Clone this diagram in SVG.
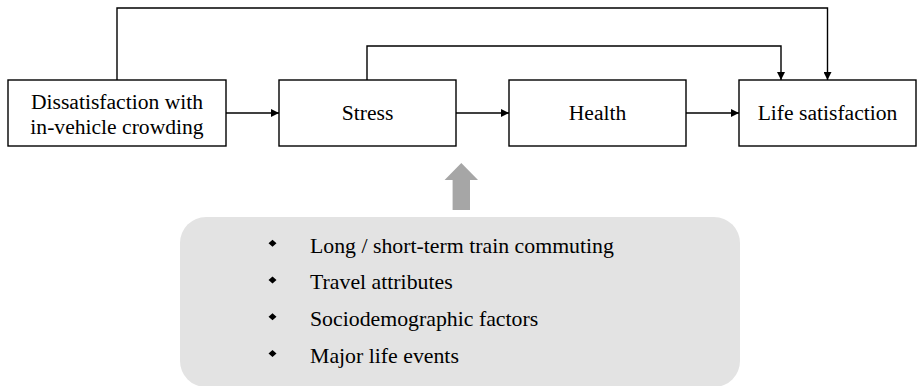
<svg xmlns="http://www.w3.org/2000/svg" width="917" height="386" viewBox="0 0 917 386">
<style>
.box{fill:#fff;stroke:#000;stroke-width:1.4}
.lbl{font-family:"Liberation Serif","Times New Roman",serif;font-size:21.6px;fill:#000;text-anchor:middle}
.li{font-family:"Liberation Serif","Times New Roman",serif;font-size:21.8px;fill:#000}
.con{fill:none;stroke:#000;stroke-width:1.4}
</style>
<defs>
<marker id="ah" viewBox="0 0 10 10" refX="10" refY="5" markerWidth="8" markerHeight="8" markerUnits="userSpaceOnUse" orient="auto">
<path d="M0,0 L10,5 L0,10 z" fill="#000"/>
</marker>
</defs>
<g id="connectors">
<path class="con" d="M117,80 V8 H827.5 V80" marker-end="url(#ah)"/>
<path class="con" d="M367,80 V46 H781 V80" marker-end="url(#ah)"/>
<path class="con" d="M226,113 H279" marker-end="url(#ah)"/>
<path class="con" d="M456,113 H509" marker-end="url(#ah)"/>
<path class="con" d="M686,113 H739" marker-end="url(#ah)"/>
<path d="M461.3,163 L478,180 L470,180 L470,210 L452.6,210 L452.6,180 L444.6,180 Z" fill="#a6a6a6"/>
</g>
<g id="n1"><rect class="box" x="8" y="80" width="218" height="66"/><text class="lbl" x="117" y="109">Dissatisfaction with</text><text class="lbl" x="117" y="134">in-vehicle crowding</text></g>
<g id="n2"><rect class="box" x="279" y="80" width="177" height="66"/><text class="lbl" x="367.5" y="120">Stress</text></g>
<g id="n3"><rect class="box" x="509" y="80" width="177" height="66"/><text class="lbl" x="597.5" y="120">Health</text></g>
<g id="n4"><rect class="box" x="739" y="80" width="177" height="66"/><text class="lbl" x="827.5" y="120">Life satisfaction</text></g>
<g id="factors">
<rect x="180" y="217" width="560" height="170" rx="26" fill="#e3e3e3"/>
<path d="M272.5,239.8 l4,3.5 l-4,3.5 l-4,-3.5 z M272.5,276.6 l4,3.5 l-4,3.5 l-4,-3.5 z M272.5,313.3 l4,3.5 l-4,3.5 l-4,-3.5 z M272.5,350.1 l4,3.5 l-4,3.5 l-4,-3.5 z" fill="#000"/>
<text class="li" x="310" y="252.5">Long / short-term train commuting</text>
<text class="li" x="310" y="289.3">Travel attributes</text>
<text class="li" x="310" y="326">Sociodemographic factors</text>
<text class="li" x="310" y="362.8">Major life events</text>
</g>
</svg>
